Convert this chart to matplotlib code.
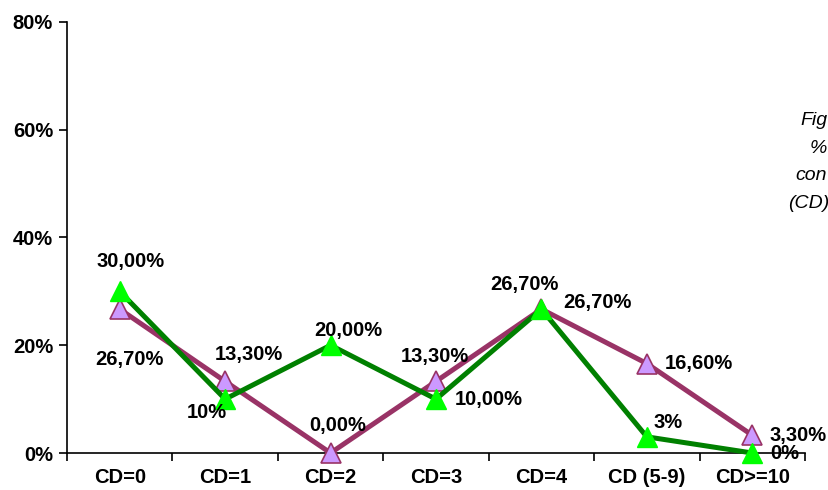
import numpy as np
import matplotlib
matplotlib.use("Agg")
import matplotlib.pyplot as plt

plt.rcParams["font.family"] = ["Liberation Sans", "DejaVu Sans"]

categories = ["CD=0", "CD=1", "CD=2", "CD=3", "CD=4", "CD (5-9)", "CD>=10"]
purple_vals = [26.7, 13.3, 0.0, 13.3, 26.7, 16.6, 3.3]
green_vals = [30.0, 10.0, 20.0, 10.0, 26.7, 3.0, 0.0]
purple_labels = ["26,70%", "13,30%", "0,00%", "13,30%", "26,70%", "16,60%", "3,30%"]
green_labels = ["30,00%", "10%", "20,00%", "10,00%", "26,70%", "3%", "0%"]

# label offsets in pixels (dx, dy) relative to the point
purple_off = [(10, -50), (24, 27), (7, 28), (-1, 25), (56, 7), (52, 0), (46, 0)]
green_off = [(11, 30), (-18, -13), (18, 15), (53, 0), (-17, 25), (21, 14), (32, 0)]

fig = plt.figure(figsize=(8.29, 4.9), dpi=100)
ax = fig.add_axes([67/829, 1-453/490, (805-67)/829, (453-22)/490])

x = np.arange(len(categories))
ax.plot(x, purple_vals, color="#993366", lw=3.6, marker="^", ms=15,
        mfc="#CC99FF", mec="#993366", mew=1.2, zorder=3, clip_on=False)
ax.plot(x, green_vals, color="#008000", lw=3.6, marker="^", ms=15,
        mfc="#00FF00", mec="#00FF00", mew=1.0, zorder=4, clip_on=False)

px2pt = 72 / 100
for i in range(len(x)):
    dx, dy = purple_off[i]
    ax.annotate(purple_labels[i], (x[i], purple_vals[i]), xytext=(dx*px2pt, dy*px2pt),
                textcoords="offset points", ha="center", va="center",
                fontsize=14.5, fontweight="bold", zorder=6, annotation_clip=False)
    dx, dy = green_off[i]
    ax.annotate(green_labels[i], (x[i], green_vals[i]), xytext=(dx*px2pt, dy*px2pt),
                textcoords="offset points", ha="center", va="center",
                fontsize=14.5, fontweight="bold", zorder=6, annotation_clip=False)

ax.set_xlim(-0.5, len(categories) - 0.5)
ax.set_ylim(0, 80)
ax.set_yticks([0, 20, 40, 60, 80])
ax.set_yticklabels(["0%", "20%", "40%", "60%", "80%"], fontsize=14.5, fontweight="bold")
ax.set_xticks(x)
ax.set_xticklabels(categories, fontsize=14.5, fontweight="bold")
ax.set_xticks(np.arange(-0.5, len(categories)), minor=True)
ax.tick_params(axis="x", which="major", length=0, pad=11)
ax.tick_params(axis="x", which="minor", length=6, width=1.2, direction="out")
ax.tick_params(axis="y", length=6, width=1.2, pad=4)
for s in ["top", "right"]:
    ax.spines[s].set_visible(False)
for s in ["left", "bottom"]:
    ax.spines[s].set_linewidth(1.2)
ax.patch.set_alpha(0)
for sp in ax.spines.values():
    sp.set_zorder(2)

# caption fragments at the right edge
for txt, xp, yp in [("Fig", 800, 120), ("%", 810, 148), ("con", 795, 176), ("(CD)", 788, 203)]:
    fig.text(xp/829, 1-yp/490, txt, ha="left", va="center", fontsize=14, style="italic")

plt.savefig("out.png", dpi=100)
